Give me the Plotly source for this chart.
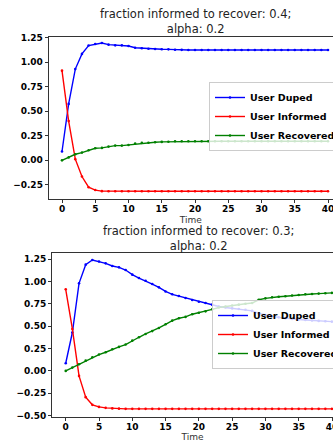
import plotly.graph_objects as go

# Time steps shared by both runs
time_steps = list(range(41))

# Run 1: fraction informed to recover 0.4, alpha 0.2
duped_a = [0.09, 0.575, 0.93, 1.085, 1.17, 1.186, 1.196, 1.179, 1.172, 1.172,
           1.165, 1.148, 1.142, 1.138, 1.135, 1.132, 1.131, 1.127, 1.126, 1.125,
           1.125, 1.125, 1.125, 1.125, 1.125, 1.125, 1.125, 1.125, 1.125, 1.125,
           1.125, 1.125, 1.125, 1.125, 1.125, 1.125, 1.125, 1.125, 1.125, 1.125,
           1.125]
informed_a = [0.914, 0.40, 0.012, -0.165, -0.274, -0.303, -0.314, -0.315, -0.315, -0.315,
              -0.315, -0.315, -0.315, -0.315, -0.315, -0.315, -0.315, -0.315, -0.315, -0.315,
              -0.315, -0.315, -0.315, -0.315, -0.315, -0.315, -0.315, -0.315, -0.315, -0.315,
              -0.315, -0.315, -0.315, -0.315, -0.315, -0.315, -0.315, -0.315, -0.315, -0.315,
              -0.315]
recovered_a = [0.0, 0.03, 0.062, 0.079, 0.103, 0.123, 0.127, 0.14, 0.15, 0.15,
               0.157, 0.171, 0.178, 0.18, 0.185, 0.188, 0.189, 0.195, 0.195, 0.195,
               0.195, 0.195, 0.195, 0.195, 0.195, 0.195, 0.195, 0.195, 0.195, 0.195,
               0.195, 0.195, 0.195, 0.195, 0.195, 0.195, 0.195, 0.195, 0.195, 0.195,
               0.195]

# Run 2: fraction informed to recover 0.3, alpha 0.2
duped_b = [0.086, 0.43, 0.981, 1.19, 1.242, 1.225, 1.205, 1.175, 1.16, 1.13,
           1.078, 1.04, 1.01, 0.973, 0.936, 0.89, 0.858, 0.839, 0.817, 0.794,
           0.775, 0.76, 0.742, 0.722, 0.71, 0.70, 0.694, 0.685, 0.672, 0.645,
           0.625, 0.612, 0.60, 0.59, 0.582, 0.576, 0.57, 0.565, 0.56, 0.556,
           0.552]
informed_b = [0.914, 0.47, -0.056, -0.294, -0.38, -0.403, -0.414, -0.42, -0.423, -0.425,
              -0.425, -0.425, -0.425, -0.425, -0.425, -0.425, -0.425, -0.425, -0.425, -0.425,
              -0.425, -0.425, -0.425, -0.425, -0.425, -0.425, -0.425, -0.425, -0.425, -0.425,
              -0.425, -0.425, -0.425, -0.425, -0.425, -0.425, -0.425, -0.425, -0.425, -0.425,
              -0.425]
recovered_b = [0.0, 0.037, 0.075, 0.115, 0.153, 0.183, 0.209, 0.243, 0.269, 0.295,
               0.339, 0.377, 0.414, 0.446, 0.481, 0.522, 0.563, 0.59, 0.605, 0.635,
               0.652, 0.667, 0.69, 0.71, 0.722, 0.732, 0.742, 0.752, 0.76, 0.797,
               0.813, 0.825, 0.831, 0.837, 0.845, 0.851, 0.858, 0.862, 0.866, 0.87,
               0.874]

series_names = ["User Duped", "User Informed", "User Recovered"]
series_colors = ["#0000ff", "#ff0000", "#008000"]

titles = ["fraction informed to recover: 0.4;<br>alpha: 0.2",
          "fraction informed to recover: 0.3;<br>alpha: 0.2"]

W, H = 333, 442
fig = go.Figure()

runs = [(duped_a, informed_a, recovered_a), (duped_b, informed_b, recovered_b)]
for i, run in enumerate(runs):
    xa = "x" if i == 0 else "x2"
    ya = "y" if i == 0 else "y2"
    lg = "legend" if i == 0 else "legend2"
    for name, color, values in zip(series_names, series_colors, run):
        fig.add_trace(go.Scatter(
            x=time_steps, y=values, name=name, mode="lines+markers",
            line=dict(color=color, width=1.4),
            marker=dict(color=color, size=2.6),
            xaxis=xa, yaxis=ya, legend=lg,
        ))

tick_font = dict(family="DejaVu Sans", size=9, color="#000000", weight="bold")
axis_common = dict(
    showline=True, linecolor="#333333", linewidth=1,
    ticks="outside", ticklen=3, tickwidth=1, tickcolor="#333333",
    showgrid=False, zeroline=False, tickfont=tick_font, automargin=False,
)
x_common = dict(tickmode="linear", tick0=0, dtick=5, mirror=True,
                ticklabeloverflow="allow", ticklabelstandoff=-2,
                title=dict(text="Time",
                           font=dict(family="DejaVu Sans", size=9, color="#333333"),
                           standoff=3))
y_common = dict(tickmode="linear", tick0=0, dtick=0.25, tickformat=".2f")


def px_x(px):
    return px / W


def px_y(py):
    return 1 - py / H


legend_font = dict(family="DejaVu Sans", size=9.5, color="#000000", weight="bold")

fig.update_layout(
    width=W, height=H,
    margin=dict(l=0, r=0, t=0, b=0, autoexpand=False),
    paper_bgcolor="white", plot_bgcolor="white",
    xaxis=dict(domain=[px_x(48.7), 1], range=[-2.0, 40.75], anchor="y",
               **x_common, **axis_common),
    yaxis=dict(domain=[px_y(199), px_y(37)], range=[-0.394, 1.257], anchor="x",
               **y_common, **axis_common),
    xaxis2=dict(domain=[px_x(52), 1], range=[-2.06, 40.15], anchor="y2",
                **x_common, **axis_common),
    yaxis2=dict(domain=[px_y(416.7), px_y(252.8)], range=[-0.513, 1.323], anchor="x2",
                **y_common, **axis_common),
    legend=dict(x=px_x(209), y=px_y(116.5), xanchor="left", yanchor="middle",
                bgcolor="rgba(255,255,255,0.8)", bordercolor="#cccccc", borderwidth=1,
                font=legend_font),
    legend2=dict(x=px_x(212), y=px_y(334.5), xanchor="left", yanchor="middle",
                 bgcolor="rgba(255,255,255,0.8)", bordercolor="#cccccc", borderwidth=1,
                 font=legend_font),
    showlegend=True,
)

# Two-line subplot titles
for text, cx, cy in [(titles[0], 196, 21), (titles[1], 198, 238)]:
    fig.add_annotation(
        text=text, x=px_x(cx), y=px_y(cy), xref="paper", yref="paper",
        xanchor="center", yanchor="middle", showarrow=False,
        font=dict(family="DejaVu Sans", size=11.5, color="#222222"),
    )

fig.write_html("out.html")
